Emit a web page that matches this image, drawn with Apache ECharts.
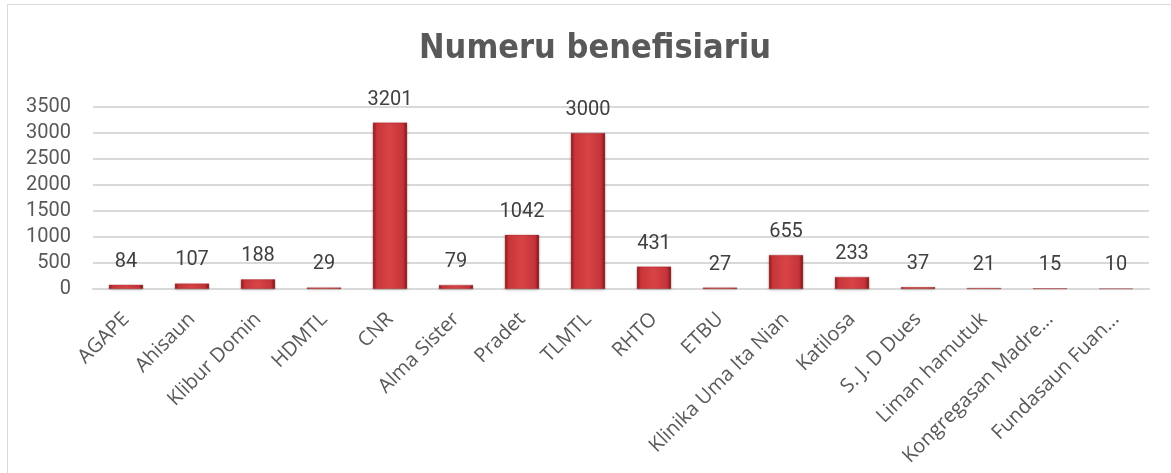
<!DOCTYPE html>
<html>
<head>
<meta charset="utf-8">
<script src="https://cdn.jsdelivr.net/npm/echarts@6/dist/echarts.min.js"></script>
<style>
  html, body { margin: 0; padding: 0; background: #fff; }
  #frame { position: absolute; left: 7px; top: 4px; width: 1200px; height: 520px; border: 1px solid #d9d9d9; }
  #chart { position: absolute; left: 0; top: 0; width: 1171px; height: 473px; }
</style>
</head>
<body>
<div id="frame"></div>
<div id="chart"></div>
<script>
const categories = ['AGAPE', 'Ahisaun', 'Klibur Domin', 'HDMTL', 'CNR', 'Alma Sister', 'Pradet', 'TLMTL',
  'RHTO', 'ETBU', 'Klinika Uma Ita Nian', 'Katilosa', 'S. J. D Dues', 'Liman hamutuk',
  'Kongregasan Madre...', 'Fundasaun Fuan...'];
const beneficiaries = [84, 107, 188, 29, 3201, 79, 1042, 3000, 431, 27, 655, 233, 37, 21, 15, 10];

const chart = echarts.init(document.getElementById('chart'));
chart.setOption({
  animation: false,
  title: {
    text: 'Numeru benefisiariu',
    left: 414,
    top: 27,
    textStyle: {
      fontFamily: '"Liberation Sans Narrow", "DejaVu Sans Condensed", sans-serif',
      fontWeight: 'bold',
      fontSize: 34,
      color: '#595959'
    }
  },
  grid: { left: 93, right: 22, top: 107, bottom: 184 },
  xAxis: {
    type: 'category',
    data: categories,
    axisTick: { show: false },
    axisLine: { lineStyle: { color: '#d9d9d9', width: 2 } },
    axisLabel: {
      interval: 0,
      rotate: 45,
      margin: 27,
      fontFamily: '"Open Sans", sans-serif',
      fontSize: 20,
      color: '#595959'
    }
  },
  yAxis: {
    type: 'value',
    min: 0,
    max: 3500,
    interval: 500,
    axisLine: { show: false },
    axisTick: { show: false },
    splitLine: { lineStyle: { color: '#d9d9d9', width: 2 } },
    axisLabel: {
      margin: 22,
      formatter: (v) => String(v),
      fontFamily: 'Roboto, sans-serif',
      fontSize: 20,
      color: '#595959'
    }
  },
  series: [{
    type: 'bar',
    data: beneficiaries,
    barWidth: '52%',
    itemStyle: {
      color: new echarts.graphic.LinearGradient(0, 0, 1, 0, [
        { offset: 0, color: '#8e1b1f' },
        { offset: 0.12, color: '#c8363a' },
        { offset: 0.5, color: '#d84446' },
        { offset: 0.88, color: '#c5333a' },
        { offset: 1, color: '#7a1518' }
      ]),
      borderColor: 'rgba(154,34,38,0.6)',
      borderWidth: 0.5,
      shadowColor: 'rgba(0,0,0,0.2)',
      shadowBlur: 3,
      shadowOffsetY: 1
    },
    label: {
      show: true,
      position: 'top',
      distance: 13,
      fontFamily: 'Roboto, sans-serif',
      fontSize: 20,
      color: '#404040'
    }
  }]
});
</script>
</body>
</html>
